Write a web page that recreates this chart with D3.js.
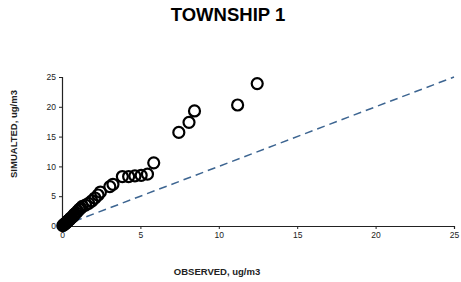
<!DOCTYPE html>
<html>
<head>
<meta charset="utf-8">
<script src="https://cdn.jsdelivr.net/npm/d3@7"></script>
<style>
  body { margin: 0; background: #fff; }
  svg { display: block; font-family: "Liberation Sans", Arial, sans-serif; }
</style>
</head>
<body>
<svg width="461" height="282"></svg>
<script>
// observed vs simulated concentrations, ug/m3
var observed = [0.05, 0.1, 0.15, 0.2, 0.25, 0.3, 0.35, 0.4, 0.45, 0.5, 0.55, 0.6, 0.7, 0.75, 0.8, 0.9,
  1.0, 1.1, 1.2, 1.3, 1.5, 1.7, 1.9, 2.1, 2.3, 2.45, 3.05, 3.25, 3.85, 4.25, 4.65, 5.05, 5.45, 5.85,
  7.45, 8.1, 8.45, 11.2, 12.45];
var simulated = [0.05, 0.2, 0.3, 0.4, 0.5, 0.6, 0.8, 0.9, 1.0, 1.1, 1.3, 1.4, 1.6, 1.8, 2.0, 2.2,
  2.5, 2.8, 3.0, 3.3, 3.5, 3.8, 4.2, 4.7, 5.2, 5.7, 6.6, 7.0, 8.3, 8.3, 8.4, 8.5, 8.7, 10.6,
  15.7, 17.4, 19.3, 20.3, 23.9];
var ticks = [0, 5, 10, 15, 20, 25];
var lineOneToOne = [0, 25];

var svg = d3.select("svg");
var margin = { left: 62, right: 7, top: 77, bottom: 56 };
var width = +svg.attr("width");
var height = +svg.attr("height");

var x = d3.scaleLinear().domain([0, 25]).range([margin.left, width - margin.right]);
var y = d3.scaleLinear().domain([0, 25]).range([height - margin.bottom, margin.top]);

// axes
var xAxis = svg.append("g")
  .attr("transform", "translate(0," + y(0) + ")")
  .call(d3.axisBottom(x).tickValues(ticks).tickSize(3).tickPadding(3));
var yAxis = svg.append("g")
  .attr("transform", "translate(" + x(0) + ",0)")
  .call(d3.axisLeft(y).tickValues(ticks).tickSize(3).tickPadding(3));
[xAxis, yAxis].forEach(function (a) {
  a.select(".domain").attr("stroke", "#222").attr("stroke-width", 1.2);
  a.selectAll(".tick line").attr("stroke", "#222");
  a.selectAll(".tick text").attr("fill", "#222").style("font-size", "8.5px");
});

// 1:1 line
svg.append("line")
  .attr("x1", x(lineOneToOne[0])).attr("y1", y(lineOneToOne[0]))
  .attr("x2", x(lineOneToOne[1])).attr("y2", y(lineOneToOne[1]))
  .attr("stroke", "#3d6591")
  .attr("stroke-width", 1.5)
  .attr("stroke-dasharray", "8,5");

// points
svg.append("g").selectAll("circle")
  .data(observed.map(function (d, i) { return [d, simulated[i]]; }))
  .enter().append("circle")
  .attr("cx", function (d) { return x(d[0]); })
  .attr("cy", function (d) { return y(d[1]); })
  .attr("r", 5.5)
  .attr("fill", "none")
  .attr("stroke", "#000")
  .attr("stroke-width", 2.2);

// titles
svg.append("text")
  .attr("x", 228).attr("y", 21)
  .attr("text-anchor", "middle")
  .style("font-size", "18.5px").style("font-weight", "bold")
  .text("TOWNSHIP 1");

svg.append("text")
  .attr("x", 217).attr("y", 275)
  .attr("text-anchor", "middle")
  .style("font-size", "9.5px").style("font-weight", "bold").attr("fill", "#222")
  .text("OBSERVED, ug/m3");

svg.append("text")
  .attr("transform", "translate(17,134) rotate(-90)")
  .attr("text-anchor", "middle")
  .style("font-size", "9.5px").style("font-weight", "bold").attr("fill", "#222")
  .text("SIMUALTED,  ug/m3");
</script>
</body>
</html>
